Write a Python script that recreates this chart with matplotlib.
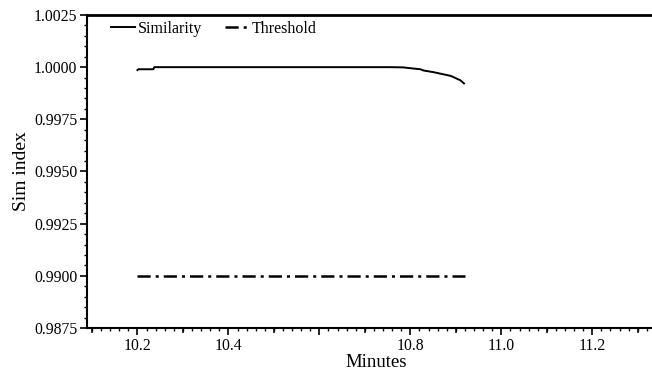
import matplotlib
matplotlib.use("Agg")
import matplotlib.pyplot as plt
from matplotlib.ticker import MultipleLocator, FixedLocator
import numpy as np

plt.rcParams['font.family'] = ['Liberation Serif', 'DejaVu Serif']
plt.rcParams['lines.scale_dashes'] = False

# Data
sim_minutes = [10.200, 10.202, 10.235, 10.237, 10.50, 10.753, 10.784, 10.80, 10.822,
               10.829, 10.851, 10.870, 10.889, 10.900, 10.910, 10.918]
sim_values = [0.99986, 0.99990, 0.99990, 1.00000, 1.00000, 1.00000, 0.99999, 0.99995, 0.99990,
              0.99984, 0.99976, 0.99967, 0.99958, 0.99947, 0.99937, 0.99922]
thr_minutes = [10.20, 10.92]
thr_values = [0.9900, 0.9900]

x_ticks = [10.2, 10.4, 10.6, 10.8, 11.0, 11.2]
x_tick_labels = ["10.2", "10.4", "", "10.8", "11.0", "11.2"]
y_ticks = [0.9875, 0.9900, 0.9925, 0.9950, 0.9975, 1.0000, 1.0025]
y_tick_labels = ["0.9875", "0.9900", "0.9925", "0.9950", "0.9975", "1.0000", "1.0025"]

fig = plt.figure(figsize=(6.52, 3.71), dpi=100)
ax = fig.add_axes([0.1334, 0.1159, 0.8666 + 0.02, 0.8437])

ax.plot(sim_minutes, sim_values, color='black', lw=1.4, label='Similarity')
ax.plot(thr_minutes, thr_values, color='black', lw=1.8,
        linestyle=(0, (9.5, 3.6, 2.2, 3.6)), label='Threshold')

ax.set_xlim(10.089, 11.36)
ax.set_ylim(0.9875, 1.0025)

ax.xaxis.set_major_locator(FixedLocator(x_ticks))
ax.set_xticklabels(x_tick_labels)
ax.xaxis.set_minor_locator(MultipleLocator(0.02))
ax.yaxis.set_major_locator(FixedLocator(y_ticks))
ax.set_yticklabels(y_tick_labels)
ax.yaxis.set_minor_locator(MultipleLocator(0.0005))

ax.tick_params(axis='both', which='major', direction='out', length=5, width=1.2,
               labelsize=11.3, pad=2)
ax.tick_params(axis='both', which='minor', direction='out', length=2.5, width=1.0)

sec = ax.secondary_xaxis('bottom')
sec.set_xticks([10.1, 10.3, 10.5, 10.7, 10.9, 11.1, 11.3])
sec.set_xticklabels([])
sec.tick_params(length=3.8, width=1.1, direction='out')
sec.spines['bottom'].set_visible(False)

ax.spines['right'].set_visible(False)
ax.spines['left'].set_linewidth(1.5)
ax.spines['bottom'].set_linewidth(1.5)
ax.spines['top'].set_linewidth(2.0)

ax.set_xlabel('Minutes', fontsize=13.5, labelpad=0)
ax.set_ylabel('Sim index', fontsize=14, labelpad=3)

ax.legend(loc='upper left', ncol=2, frameon=False, fontsize=11.5,
          handlelength=1.5, handletextpad=0.2, columnspacing=1.4,
          bbox_to_anchor=(0.025, 1.013), borderaxespad=0.2)

fig.savefig('out.png', dpi=100)
